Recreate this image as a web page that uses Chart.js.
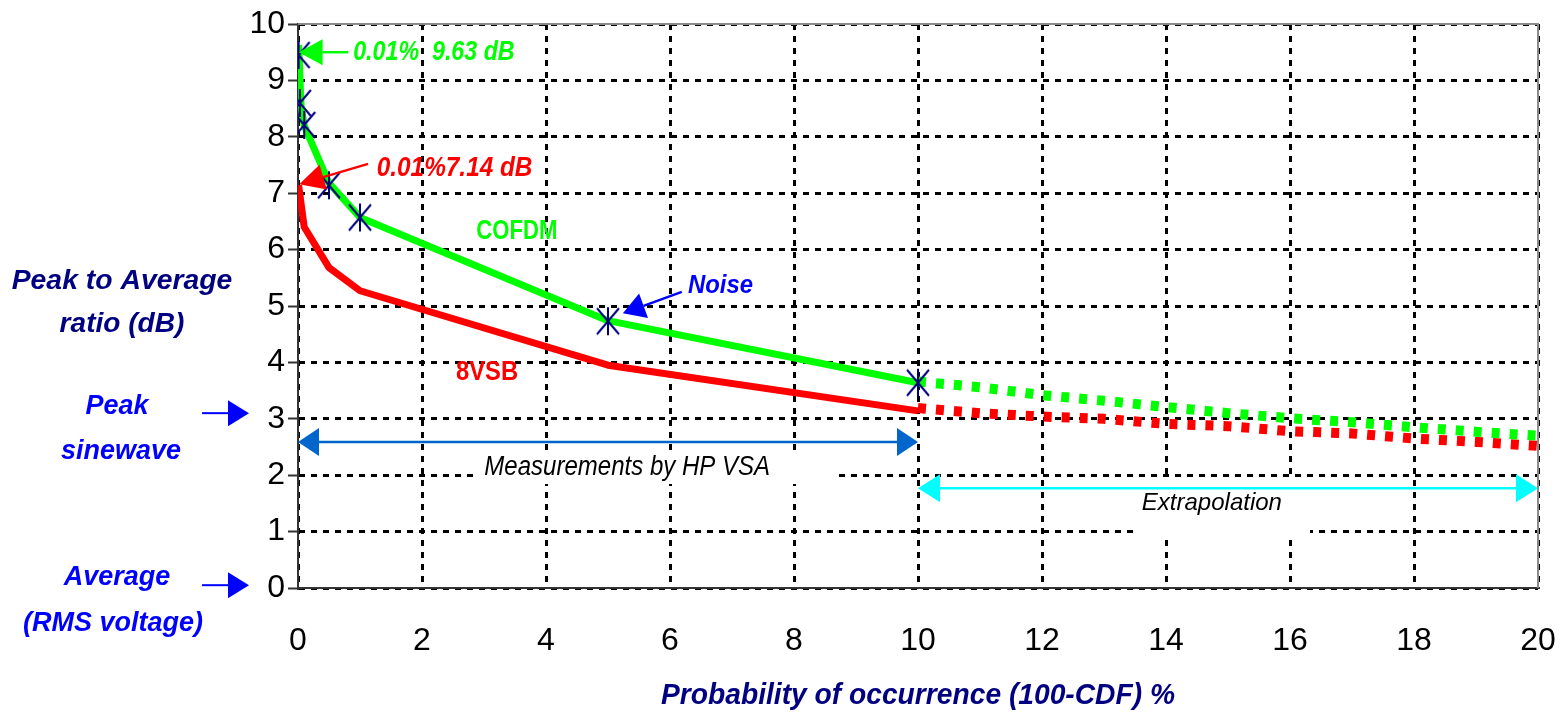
<!DOCTYPE html>
<html>
<head>
<meta charset="utf-8">
<script src="https://cdn.jsdelivr.net/npm/chart.js@4"></script>
<style>
    body { margin: 0; background: #fff; }
    #wrap { width: 1564px; height: 715px; }
</style>
</head>
<body>
<div id="wrap"><canvas id="papr" width="1564" height="715"></canvas></div>
<script>
// values
const cofdmX = [0.01, 0.05, 0.1, 0.5, 1, 5, 10];
const cofdmY = [9.63, 8.55, 8.2, 7.18, 6.57, 4.74, 3.64];
const vsbX = [0.01, 0.1, 0.5, 1, 5, 10];
const vsbY = [7.14, 6.4, 5.68, 5.27, 3.95, 3.14];
const extX = [10, 11, 12, 13, 14, 15, 16, 17, 18, 19, 20];
const cofdmExtY = [3.66, 3.56, 3.42, 3.32, 3.21, 3.10, 3.01, 2.94, 2.85, 2.77, 2.70];
const vsbExtY = [3.19, 3.10, 3.04, 3.00, 2.91, 2.87, 2.78, 2.74, 2.65, 2.59, 2.52];
const noiseX = [0.01, 0.03, 0.1, 0.5, 1, 5, 10];
const noiseY = [9.45, 8.6, 8.21, 7.14, 6.57, 4.73, 3.64];
const xTicks = [0, 2, 4, 6, 8, 10, 12, 14, 16, 18, 20];
const yTicks = [0, 1, 2, 3, 4, 5, 6, 7, 8, 9, 10];

const FONT = '"Liberation Sans", Arial, sans-serif';

function pts(xs, ys) {
    return xs.map(function(x, i) { return {x: x, y: ys[i]}; });
}

// asterisk marker (X with a vertical bar)
const star = document.createElement('canvas');
star.width = 26;
star.height = 30;
(function() {
    let c = star.getContext('2d');
    c.strokeStyle = '#000080';
    c.lineWidth = 2;
    c.beginPath();
    c.moveTo(2, 2); c.lineTo(24, 28);
    c.moveTo(24, 2); c.lineTo(2, 28);
    c.moveTo(13, 1); c.lineTo(13, 29);
    c.stroke();
})();

function text(ctx, str, x, y, font, color, sx, align) {
    ctx.save();
    ctx.translate(x, y);
    ctx.scale(sx || 1, 1);
    ctx.font = font;
    ctx.fillStyle = color;
    ctx.textAlign = align || 'center';
    ctx.textBaseline = 'middle';
    ctx.fillText(str, 0, 0);
    ctx.restore();
}

function head(ctx, bx, by, tx, ty, hw) {
    let a = Math.atan2(ty - by, tx - bx);
    ctx.beginPath();
    ctx.moveTo(tx, ty);
    ctx.lineTo(bx + hw * Math.sin(a), by - hw * Math.cos(a));
    ctx.lineTo(bx - hw * Math.sin(a), by + hw * Math.cos(a));
    ctx.closePath();
    ctx.fill();
}

function arrow(ctx, x1, y1, x2, y2, color, lw, hl, hw, both) {
    let a = Math.atan2(y2 - y1, x2 - x1);
    let bx = x2 - hl * Math.cos(a), by = y2 - hl * Math.sin(a);
    let sx = both ? x1 + hl * Math.cos(a) : x1, sy = both ? y1 + hl * Math.sin(a) : y1;
    ctx.save();
    ctx.strokeStyle = color;
    ctx.fillStyle = color;
    ctx.lineWidth = lw;
    ctx.beginPath();
    ctx.moveTo(sx, sy);
    ctx.lineTo(bx, by);
    ctx.stroke();
    head(ctx, bx, by, x2, y2, hw);
    if (both) head(ctx, sx, sy, x1, y1, hw);
    ctx.restore();
}

const notes = {
    id: 'notes',
    beforeDatasetsDraw(chart) {
        let ctx = chart.ctx;
        ctx.save();
        ctx.fillStyle = '#fff';
        ctx.fillRect(475, 452, 358, 32);
        ctx.fillRect(1135, 478, 175, 60);
        ctx.restore();
    },
    afterDraw(chart) {
        let ctx = chart.ctx;
        let a = chart.chartArea;
        let X = v => chart.scales.x.getPixelForValue(v);
        let Y = v => chart.scales.y.getPixelForValue(v);

        // top and right frame
        ctx.save();
        ctx.strokeStyle = '#8a8a8a';
        ctx.lineWidth = 2;
        ctx.beginPath();
        ctx.moveTo(a.left, a.top);
        ctx.lineTo(a.right, a.top);
        ctx.lineTo(a.right, a.bottom);
        ctx.stroke();
        ctx.restore();

        let bi = s => 'italic bold ' + s + 'px ' + FONT;
        let b = s => 'bold ' + s + 'px ' + FONT;
        let it = s => 'italic ' + s + 'px ' + FONT;

        // in-plot labels
        text(ctx, '0.01%  9.63 dB', X(0.89), Y(9.5), bi(28), '#00ff00', 0.83, 'left');
        arrow(ctx, X(0.81), Y(9.5), X(0.01), Y(9.5), '#00ff00', 2.5, 24, 13);
        text(ctx, '0.01%7.14 dB', X(1.27), Y(7.45), bi(28), '#ff0000', 0.87, 'left');
        arrow(ctx, X(1.13), Y(7.52), X(0.02), Y(7.16), '#ff0000', 2.5, 25, 13);
        text(ctx, 'COFDM', X(3.53), Y(6.32), b(28), '#00ff00', 0.79);
        text(ctx, '8VSB', X(3.05), Y(3.83), b(28), '#ff0000', 0.85);
        text(ctx, 'Noise', X(6.29), Y(5.35), bi(26), '#0000ff', 0.92, 'left');
        arrow(ctx, X(6.19), Y(5.25), X(5.24), Y(4.87), '#0000ff', 2.5, 22, 13);

        arrow(ctx, X(0), Y(2.59), X(10), Y(2.59), '#0066cc', 2.5, 21, 14, true);
        text(ctx, 'Measurements by HP VSA', X(5.31), Y(2.14), it(27), '#000', 0.89);
        arrow(ctx, X(10), Y(1.77), X(20), Y(1.77), '#00ffff', 2.5, 22, 14, true);
        text(ctx, 'Extrapolation', X(14.74), Y(1.51), it(24), '#000', 1);

        // left side labels
        text(ctx, 'Peak to Average', 122, 282, bi(27), '#000080', 1.05);
        text(ctx, 'ratio (dB)', 122, 325, bi(27), '#000080', 1.04);
        text(ctx, 'Peak', 117, 407, bi(27), '#0000ff', 1);
        text(ctx, 'sinewave', 121, 452, bi(27), '#0000ff', 1);
        arrow(ctx, 202, Y(3.1), 249, Y(3.1), '#0000ff', 2, 21, 13);
        text(ctx, 'Average', 117, 578, bi(27), '#0000ff', 1);
        text(ctx, '(RMS voltage)', 113, 624, bi(27), '#0000ff', 1);
        arrow(ctx, 202, Y(0.05), 249, Y(0.05), '#0000ff', 2, 21, 13);

        // x axis title
        text(ctx, 'Probability of occurrence (100-CDF) %', (a.left + a.right) / 2, 696, bi(30), '#000080', 0.94);
    }
};

const ctx = document.getElementById('papr').getContext('2d');
const papr = new Chart(ctx, {
    type: 'line',
    data: {
        datasets: [{
                label: 'Noise',
                data: pts(noiseX, noiseY),
                showLine: false,
                pointStyle: star,
                pointRadius: 12,
            },
            {
                label: 'COFDM',
                data: pts(cofdmX, cofdmY),
                borderColor: '#00ff00',
                borderWidth: 7,
                pointRadius: 0,
            },
            {
                label: 'COFDM extrapolation',
                data: pts(extX, cofdmExtY),
                borderColor: '#00ff00',
                borderWidth: 10,
                borderDash: [8, 10],
                pointRadius: 0,
            },
            {
                label: '8VSB',
                data: pts(vsbX, vsbY),
                borderColor: '#ff0000',
                borderWidth: 7,
                pointRadius: 0,
            },
            {
                label: '8VSB extrapolation',
                data: pts(extX, vsbExtY),
                borderColor: '#ff0000',
                borderWidth: 10,
                borderDash: [8, 10],
                pointRadius: 0,
            }
        ]
    },
    options: {
        responsive: false,
        animation: false,
        devicePixelRatio: 1,
        layout: { padding: { top: 24, right: 26, left: 0, bottom: 0 } },
        elements: { line: { tension: 0, borderJoinStyle: 'round' } },
        plugins: {
            legend: { display: false },
            tooltip: { enabled: false }
        },
        scales: {
            x: {
                type: 'linear',
                min: 0,
                max: 20,
                afterBuildTicks: s => { s.ticks = xTicks.map(v => ({value: v})); },
                afterFit: s => { s.height = 127; s.paddingLeft = 0; s.paddingRight = 0; },
                ticks: { color: '#000', padding: 34, font: { family: FONT, size: 32 } },
                grid: { color: '#000', lineWidth: 3, borderDash: [6, 6], drawTicks: false },
                border: { color: '#333', width: 2, dash: [6, 6] }
            },
            y: {
                min: 0,
                max: 10,
                afterBuildTicks: s => { s.ticks = yTicks.map(v => ({value: v})); },
                afterFit: s => { s.width = 298; s.paddingTop = 0; s.paddingBottom = 0; },
                ticks: { color: '#000', padding: 3, font: { family: FONT, size: 32 } },
                grid: { color: '#000', lineWidth: 3, borderDash: [6, 6], tickLength: 10, tickColor: '#333', tickWidth: 2, tickBorderDash: [] },
                border: { color: '#333', width: 2, dash: [6, 6] }
            }
        }
    },
    plugins: [notes]
});
</script>
</body>
</html>
